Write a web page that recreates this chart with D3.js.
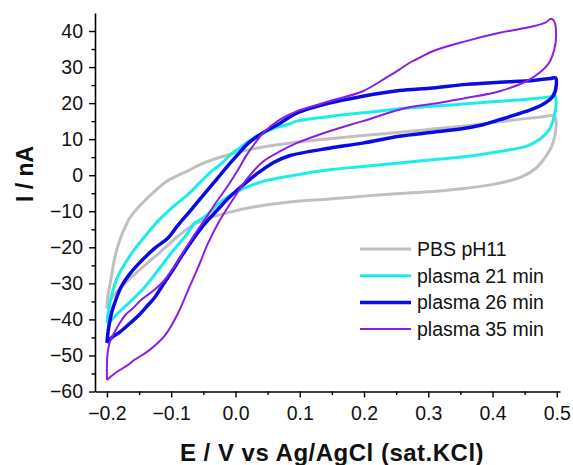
<!DOCTYPE html>
<html>
<head>
<meta charset="utf-8">
<script src="https://cdn.jsdelivr.net/npm/d3@7"></script>
<style>
  body { margin: 0; background: #fff; }
  svg text { font-family: "Liberation Sans", Arial, sans-serif; }
</style>
</head>
<body>
<div id="chart"></div>
<script>
// cyclic voltammograms, [E (V), I (nA)], forward sweep then return sweep
var pbsForward = [[-0.200,-37],[-0.199,-34],[-0.196,-31],[-0.192,-27],[-0.188,-23],[-0.180,-18],[-0.172,-14.5],[-0.165,-12],[-0.149,-8.5],[-0.123,-4],[-0.108,-1.8],[-0.071,1.5],[-0.056,2.9],[-0.020,5.2],[0.032,7.5],[0.084,8.9],[0.146,10.1],[0.198,11],[0.255,11.9],[0.307,12.8],[0.359,13.7],[0.411,14.8],[0.450,15.7],[0.478,16.2],[0.496,16.5]];
var pbsReverse = [[0.499,14.5],[0.497,11],[0.492,8],[0.483,5.2],[0.468,2],[0.447,-0.3],[0.411,-2.2],[0.359,-3.6],[0.307,-4.5],[0.255,-5.1],[0.200,-5.8],[0.146,-6.6],[0.084,-7.4],[0.032,-8.7],[-0.010,-10.3],[-0.040,-11.8],[-0.064,-13.6],[-0.090,-17],[-0.115,-21],[-0.141,-25],[-0.172,-30],[-0.190,-33.5],[-0.200,-36]];

var p21Forward = [[-0.200,-41],[-0.198,-38],[-0.193,-33.5],[-0.183,-28],[-0.172,-24.5],[-0.157,-20.5],[-0.141,-17],[-0.121,-12.8],[-0.097,-8.7],[-0.075,-5.5],[-0.055,-2],[-0.038,1],[-0.020,3.5],[-0.009,5.5],[0.010,8],[0.032,10.8],[0.060,13],[0.084,14.2],[0.095,15],[0.146,16.3],[0.198,17.3],[0.271,18.7],[0.307,19.1],[0.359,19.8],[0.411,20.5],[0.463,21.2],[0.490,21.8],[0.497,22.1]];
var p21Reverse = [[0.499,20],[0.496,16.3],[0.488,12.6],[0.473,9.9],[0.452,8],[0.411,6.6],[0.359,5.2],[0.307,4.3],[0.255,3.4],[0.198,2.4],[0.146,1.5],[0.095,0.1],[0.043,-1.7],[0.015,-3.5],[-0.009,-5.6],[-0.030,-8.5],[-0.048,-11.6],[-0.064,-13.3],[-0.074,-16],[-0.100,-21.6],[-0.121,-26.5],[-0.141,-31],[-0.162,-34.8],[-0.183,-38.3],[-0.196,-40.6],[-0.200,-41]];

var p26Forward = [[-0.200,-46.5],[-0.198,-43],[-0.196,-41],[-0.193,-38.3],[-0.188,-35.5],[-0.178,-31],[-0.165,-27.5],[-0.152,-24.8],[-0.126,-20.3],[-0.105,-17.4],[-0.090,-14],[-0.071,-10],[-0.050,-5.5],[-0.030,-1.3],[-0.012,2.6],[0.006,6.2],[0.020,8.9],[0.043,11.8],[0.070,14.5],[0.095,17.2],[0.146,20],[0.198,21.9],[0.255,23.5],[0.307,24.2],[0.359,25.2],[0.411,25.8],[0.463,26.3],[0.490,26.8],[0.498,27]];
var p26Reverse = [[0.499,24.7],[0.494,21.9],[0.478,19.6],[0.452,17.7],[0.411,15.4],[0.385,14],[0.359,13.1],[0.307,11.9],[0.255,10.8],[0.198,8.9],[0.146,7.5],[0.084,5.4],[0.060,3.6],[0.032,0.2],[0.010,-3],[-0.010,-6.2],[-0.030,-10],[-0.048,-13.5],[-0.069,-18.5],[-0.084,-22.5],[-0.100,-27],[-0.115,-31],[-0.126,-34],[-0.136,-36],[-0.150,-38.8],[-0.165,-41.2],[-0.180,-43.5],[-0.192,-45],[-0.200,-46.5]];

var p35Forward = [[-0.200,-56.8],[-0.200,-52],[-0.199,-49.4],[-0.195,-46],[-0.188,-43.5],[-0.180,-41],[-0.170,-38.5],[-0.160,-37],[-0.147,-34.6],[-0.126,-31.8],[-0.110,-29],[-0.095,-25.3],[-0.079,-20.7],[-0.064,-16.5],[-0.048,-12.4],[-0.030,-7.5],[-0.012,-3],[0.004,1.5],[0.017,5.5],[0.030,8.8],[0.043,11.7],[0.069,15.4],[0.095,17.7],[0.146,20.5],[0.198,23.3],[0.234,27],[0.255,29.3],[0.271,31.2],[0.281,32.1],[0.307,34.4],[0.359,37.2],[0.411,39.5],[0.463,41.3],[0.483,42.4],[0.491,43.4],[0.496,42.7]];
var p35Reverse = [[0.499,38.6],[0.496,34.9],[0.488,31.2],[0.473,28.4],[0.452,26],[0.411,23.3],[0.359,21.4],[0.307,19.8],[0.262,18.5],[0.198,15],[0.146,12.2],[0.095,8.9],[0.069,6.6],[0.043,3.8],[0.017,-1.2],[-0.005,-7],[-0.027,-13.3],[-0.043,-19],[-0.058,-25.5],[-0.074,-32],[-0.090,-38.5],[-0.110,-44.5],[-0.136,-48.8],[-0.157,-51.2],[-0.167,-52.6],[-0.188,-55],[-0.200,-56.8]];

var seriesNames = ["PBS pH11", "plasma 21 min", "plasma 26 min", "plasma 35 min"];
var seriesColors = ["#c0c0c0", "#1cecec", "#0a0ae6", "#8a1ee8"];
var seriesWidths = [3, 3, 3.5, 2];
var xTicks = [-0.2, -0.1, 0.0, 0.1, 0.2, 0.3, 0.4, 0.5];
var yTicks = [-60, -50, -40, -30, -20, -10, 0, 10, 20, 30, 40];

var loops = [
  pbsForward.concat(pbsReverse),
  p21Forward.concat(p21Reverse),
  p26Forward.concat(p26Reverse),
  p35Forward.concat(p35Reverse)
];

var width = 573, height = 465;
var svg = d3.select("#chart").append("svg")
    .attr("width", width)
    .attr("height", height);

var x = d3.scaleLinear().domain([-0.2186, 0.505]).range([95, 560]),
    y = d3.scaleLinear().domain([-60, 45]).range([391.5, 13]);

var line = d3.line()
    .x(function(d) { return x(d[0]); })
    .y(function(d) { return y(d[1]); })
    .curve(d3.curveCatmullRom.alpha(0.5));

svg.selectAll(".cv")
  .data(loops)
  .enter().append("path")
    .attr("class", "cv")
    .attr("fill", "none")
    .attr("stroke", function(d, i) { return seriesColors[i]; })
    .attr("stroke-width", function(d, i) { return seriesWidths[i]; })
    .attr("stroke-linejoin", "round")
    .attr("d", line);

// axes
var xMinor = d3.range(-0.15, 0.5, 0.1);
var yMinor = d3.range(-55, 45, 10);

var gx = svg.append("g").attr("transform", "translate(0," + y.range()[0] + ")");
gx.call(d3.axisBottom(x).tickValues(xTicks).tickSize(6).tickPadding(9)
    .tickFormat(d3.format(".1f")).tickSizeOuter(0));
gx.append("g").call(d3.axisBottom(x).tickValues(xMinor).tickSize(3.5).tickFormat("").tickSizeOuter(0))
  .select(".domain").remove();

var gy = svg.append("g").attr("transform", "translate(" + x.range()[0] + ",0)");
gy.call(d3.axisLeft(y).tickValues(yTicks).tickSize(6).tickPadding(6)
    .tickFormat(d3.format("d")).tickSizeOuter(0));
gy.append("g").call(d3.axisLeft(y).tickValues(yMinor).tickSize(3.5).tickFormat("").tickSizeOuter(0))
  .select(".domain").remove();

svg.selectAll(".domain").attr("stroke", "#000").attr("stroke-width", 1.6);
svg.selectAll(".tick line").attr("stroke", "#000").attr("stroke-width", 1.4);
svg.selectAll(".tick text")
    .attr("font-family", "Liberation Sans, Arial, sans-serif")
    .attr("font-size", 19.5)
    .attr("fill", "#111");

// axis titles
svg.append("text")
    .attr("x", 332)
    .attr("y", 461)
    .attr("text-anchor", "middle")
    .attr("font-size", 24)
    .attr("font-weight", "bold")
    .attr("letter-spacing", 0.5)
    .attr("fill", "#111")
    .text("E / V vs Ag/AgCl (sat.KCl)");

svg.append("text")
    .attr("transform", "translate(33,174) rotate(-90)")
    .attr("text-anchor", "middle")
    .attr("font-size", 23)
    .attr("font-weight", "bold")
    .attr("fill", "#111")
    .text("I / nA");

// legend
var legend = svg.selectAll(".legend")
  .data(seriesNames)
  .enter().append("g")
    .attr("class", "legend")
    .attr("transform", function(d, i) { return "translate(360," + (249 + i * 26.7) + ")"; });

legend.append("line")
    .attr("x1", 0).attr("x2", 51)
    .attr("stroke", function(d, i) { return seriesColors[i]; })
    .attr("stroke-width", function(d, i) { return seriesWidths[i]; });

legend.append("text")
    .attr("x", 57)
    .attr("y", 7)
    .attr("font-size", 19.5)
    .attr("fill", "#111")
    .text(function(d) { return d; });
</script>
</body>
</html>
